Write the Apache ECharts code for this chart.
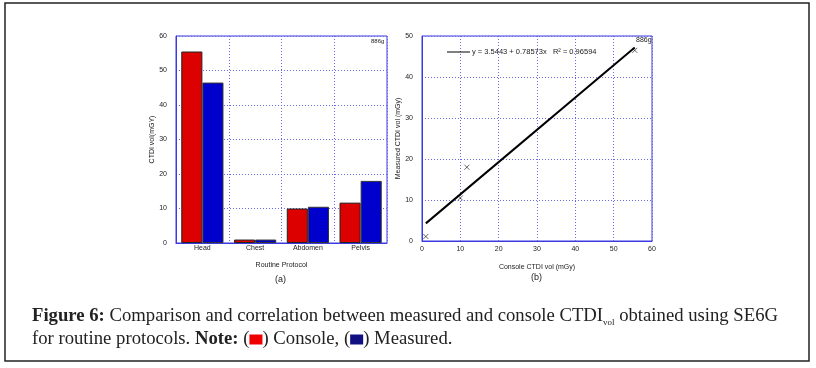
<!DOCTYPE html>
<html><head><meta charset="utf-8">
<script src="https://cdn.jsdelivr.net/npm/echarts@6/dist/echarts.min.js"></script>
<style>html,body{margin:0;padding:0;background:#fff}#c{width:816px;height:368px}</style>
</head><body><div id="c"></div>
<script>
// ---- data ----
const categories = ['Head', 'Chest', 'Abdomen', 'Pelvis'];
const consoleVals = [55.5, 1.0, 10.0, 11.7];
const measuredVals = [46.5, 1.0, 10.5, 18.0];
const scatterPts = [[1.0, 1.1], [10.0, 10.5], [11.7, 18.0], [55.5, 46.5]];
const fitLine = [[1.0, 4.3], [55.5, 47.2]];
const barTicks = [0, 10, 20, 30, 40, 50, 60];
const fitLabel = 'y = 3.5443 + 0.78573x   R² = 0.96594';

const blue = '#3a3ae0';
const gridLine = {show: true, lineStyle: {color: '#6a6ae8', type: [1, 2], width: 1}};
const axisTxt = {color: '#222', fontSize: 7, fontFamily: 'Liberation Sans'};
const nameTxt = {color: '#222', fontSize: 7, fontFamily: 'Liberation Sans'};

const chart = echarts.init(document.getElementById('c'));
chart.setOption({
  animation: false,
  grid: [
    {left: 176, top: 36, width: 211, height: 207, show: true, borderColor: blue, borderWidth: 1},
    {left: 422, top: 36, width: 230, height: 205, show: true, borderColor: blue, borderWidth: 1}
  ],
  xAxis: [
    {type: 'category', gridIndex: 0, data: categories,
     axisLine: {lineStyle: {color: blue}}, axisTick: {show: false},
     axisLabel: Object.assign({margin: 2}, axisTxt),
     splitLine: gridLine,
     name: 'Routine Protocol', nameLocation: 'middle', nameGap: 19, nameTextStyle: nameTxt},
    {type: 'value', gridIndex: 1, min: 0, max: 60, interval: 10,
     axisLine: {lineStyle: {color: blue}}, axisTick: {show: false},
     axisLabel: Object.assign({margin: 5}, axisTxt),
     splitLine: gridLine,
     name: 'Console CTDI vol (mGy)', nameLocation: 'middle', nameGap: 23, nameTextStyle: nameTxt}
  ],
  yAxis: [
    {type: 'value', gridIndex: 0, min: barTicks[0], max: barTicks[barTicks.length - 1], interval: 10,
     axisLine: {show: true, lineStyle: {color: blue}}, axisTick: {show: false},
     axisLabel: Object.assign({margin: 9}, axisTxt),
     splitLine: gridLine,
     name: 'CTDI vol(mGY)', nameLocation: 'middle', nameGap: 20, nameRotate: 90, nameTextStyle: nameTxt},
    {type: 'value', gridIndex: 1, min: 0, max: 50, interval: 10,
     axisLine: {show: true, lineStyle: {color: blue}}, axisTick: {show: false},
     axisLabel: Object.assign({margin: 9}, axisTxt),
     splitLine: gridLine,
     name: 'Measured CTDI vol (mGy)', nameLocation: 'middle', nameGap: 19, nameRotate: 90, nameTextStyle: nameTxt}
  ],
  legend: {
    left: 442, top: 43, itemWidth: 23, itemHeight: 1, itemGap: 2,
    data: [{name: fitLabel, icon: 'rect'}],
    textStyle: {color: '#222', fontSize: 7.5, fontFamily: 'Liberation Sans', padding: [0, 0, 0, -3]}
  },
  series: [
    {type: 'bar', name: 'Console', xAxisIndex: 0, yAxisIndex: 0, data: consoleVals,
     barGap: '0%', barCategoryGap: '20%',
     itemStyle: {color: '#dd0000', borderColor: '#222', borderWidth: 1}},
    {type: 'bar', name: 'Measured', xAxisIndex: 0, yAxisIndex: 0, data: measuredVals,
     barGap: '0%', barCategoryGap: '20%',
     itemStyle: {color: '#0000cc', borderColor: '#333', borderWidth: 1}},
    {type: 'line', name: fitLabel, xAxisIndex: 1, yAxisIndex: 1, data: fitLine,
     symbol: 'none', lineStyle: {color: '#000', width: 2}, itemStyle: {color: '#000'}},
    {type: 'scatter', name: 'pts', xAxisIndex: 1, yAxisIndex: 1, data: scatterPts,
     symbol: 'path://M0,0L10,10M10,0L0,10', symbolSize: 5,
     itemStyle: {color: 'none', borderColor: '#111', borderWidth: 0.8}}
  ],
  graphic: [
    {type: 'rect', shape: {x: 5, y: 3, width: 804, height: 358},
     style: {fill: 'none', stroke: '#222', lineWidth: 1.5}},
    {type: 'text', left: 371, top: 38, style: {text: '886g', fontSize: 6, fill: '#222', fontFamily: 'Liberation Sans'}},
    {type: 'text', left: 636, top: 37, style: {text: '886g', fontSize: 7, fill: '#222', fontFamily: 'Liberation Sans'}},
    {type: 'text', left: 275, top: 275, style: {text: '(a)', fontSize: 9, fill: '#222', fontFamily: 'Liberation Sans'}},
    {type: 'text', left: 531, top: 273, style: {text: '(b)', fontSize: 9, fill: '#222', fontFamily: 'Liberation Sans'}},
    {type: 'text', left: 32, top: 305, style: {
      text: '{b|Figure 6:} Comparison and correlation between measured and console CTDI{s|vol} obtained using SE6G\nfor routine protocols. {b|Note:} ({r|}) Console, ({u|}) Measured.',
      fontSize: 18.7, lineHeight: 23, fill: '#222', fontFamily: 'Liberation Serif',
      rich: {
        b: {fontWeight: 'bold', fontSize: 18.7, fontFamily: 'Liberation Serif', fill: '#222'},
        s: {fontSize: 9, fontFamily: 'Liberation Serif', fill: '#222', padding: [12, 0, 0, 0]},
        r: {width: 13, height: 10, backgroundColor: '#ee0000'},
        u: {width: 13, height: 10, backgroundColor: '#101080'}
      }
    }}
  ]
});
</script></body></html>
